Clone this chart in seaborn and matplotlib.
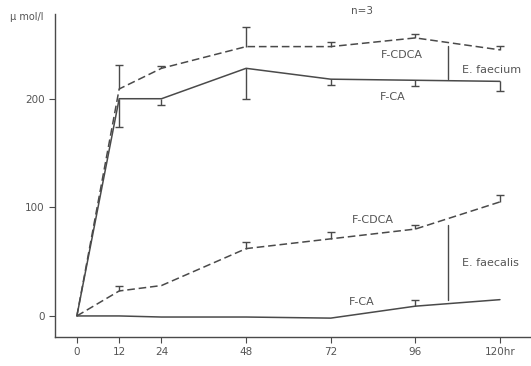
import matplotlib
matplotlib.use("Agg")
import matplotlib.pyplot as plt
import seaborn as sns
import pandas as pd

# Tempos de coleta (h)
horas = [0, 12, 24, 48, 72, 96, 120]
rotulos_x = ["0", "12", "24", "48", "72", "96", "120hr"]

# E. faecium
faecium_cdca = [0, 209, 228, 248, 248, 256, 245]
faecium_cdca_err = [0, 22, 2, 18, 4, 4, 4]      # erro para cima
faecium_ca = [0, 200, 200, 228, 218, 217, 216]
faecium_ca_err = [0, 26, 6, 28, 5, 5, 9]        # erro para baixo

# E. faecalis
faecalis_cdca = [0, 23, 28, 62, 71, 80, 105]
faecalis_cdca_err = [0, 5, 0, 6, 6, 4, 6]       # erro para cima
faecalis_ca = [0, 0, -1, -1, -2, 9, 15]
faecalis_ca_err = [0, 0, 0, 0, 0, 6, 0]         # erro para cima

cor = "#4a4a4a"
cor_texto = "#555555"

series = {
    "faecium_cdca": (faecium_cdca, "tracejado"),
    "faecium_ca": (faecium_ca, "solido"),
    "faecalis_cdca": (faecalis_cdca, "tracejado"),
    "faecalis_ca": (faecalis_ca, "solido"),
}
linhas = []
for nome, (valores, estilo) in series.items():
    for h, v in zip(horas, valores):
        linhas.append({"hora": h, "valor": v, "serie": nome, "estilo": estilo})
df = pd.DataFrame(linhas)

sns.set_style("white")
fig = plt.figure(figsize=(5.31, 3.66), dpi=100)
ax = fig.add_axes([0.1036, 0.0792, 0.8964, 0.8825])

sns.lineplot(data=df, x="hora", y="valor", units="serie", style="estilo",
             estimator=None, color=cor, linewidth=1.1, ax=ax, legend=False,
             dashes={"tracejado": (5, 2.5), "solido": ""})

def barras(valores, erros, para_cima):
    # barra de erro de um lado só, com traço apenas na ponta
    xs = [h for h, e in zip(horas, erros) if e > 0]
    ys = [v for v, e in zip(valores, erros) if e > 0]
    es = [e for e in erros if e > 0]
    zeros = [0] * len(es)
    yerr = [zeros, es] if para_cima else [es, zeros]
    ax.errorbar(xs, ys, yerr=yerr, fmt="none", ecolor=cor, elinewidth=1.0, capsize=0)
    pontas = [y + e if para_cima else y - e for y, e in zip(ys, es)]
    ax.plot(xs, pontas, linestyle="none", marker="_", markersize=6,
            markeredgewidth=1.0, color=cor)

barras(faecium_cdca, faecium_cdca_err, True)
barras(faecium_ca, faecium_ca_err, False)
barras(faecalis_cdca, faecalis_cdca_err, True)
barras(faecalis_ca, faecalis_ca_err, True)

ax.set_xlim(-6.2, 128.8)
ax.set_ylim(-19.4, 278)
ax.set_xticks(horas)
ax.set_xticklabels(rotulos_x)
ax.set_yticks([0, 100, 200])
ax.set_xlabel("")
ax.set_ylabel("")
ax.tick_params(axis="both", direction="out", length=4, width=0.8, colors=cor,
               labelcolor=cor_texto, labelsize=7.5, left=True, bottom=True)
for lado in ["top", "right"]:
    ax.spines[lado].set_visible(False)
for lado in ["left", "bottom"]:
    ax.spines[lado].set_color(cor)
    ax.spines[lado].set_linewidth(1.0)

# Rótulos das curvas
fs = 8
ax.text(92.2, 240.5, "F-CDCA", ha="center", va="center", fontsize=fs, color=cor_texto)
ax.text(89.6, 201.8, "F-CA", ha="center", va="center", fontsize=fs, color=cor_texto)
ax.text(84, 88.5, "F-CDCA", ha="center", va="center", fontsize=fs, color=cor_texto)
ax.text(80.9, 12.9, "F-CA", ha="center", va="center", fontsize=fs, color=cor_texto)

# Chaves
ax.plot([105.2, 105.2], [218.4, 248.8], color=cor, linewidth=1.0)
ax.plot([105.2, 105.2], [14.7, 83.9], color=cor, linewidth=1.0)
ax.text(109.2, 226.7, "E. faecium", ha="left", va="center", fontsize=fs, color=cor_texto)
ax.text(109.2, 48.8, "E. faecalis", ha="left", va="center", fontsize=fs, color=cor_texto)

ax.text(81, 281, "n=3", ha="center", va="center", fontsize=7.5, color=cor_texto, clip_on=False)
fig.text(0.018, 0.953, "μ mol/l", ha="left", va="center", fontsize=7, color=cor_texto)

plt.savefig("out.png", dpi=100)
plt.close()
